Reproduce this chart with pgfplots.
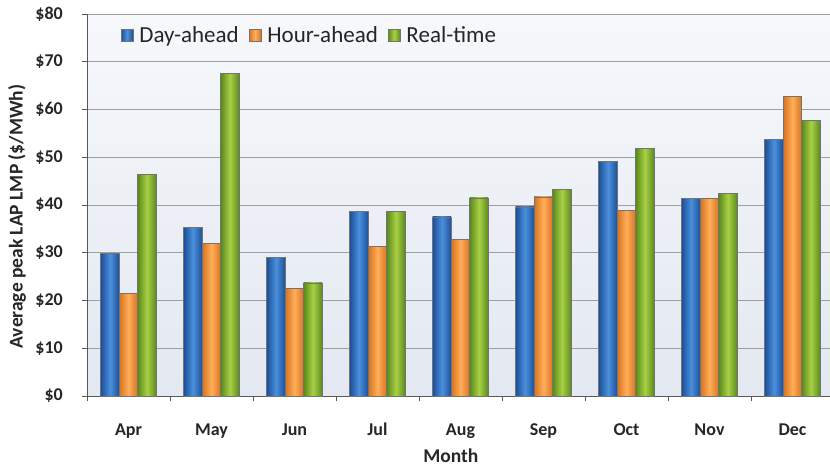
\documentclass[border=0pt]{standalone}
\usepackage{pgfplots}
\pgfplotsset{compat=1.18}
\usepackage{fontspec}
\setmainfont{Carlito}
\usetikzlibrary{calc}
\definecolor{bluemid}{HTML}{4A90DC}
\definecolor{blueedge}{HTML}{1D4F9A}
\definecolor{orgmid}{HTML}{FFAE5A}
\definecolor{orgedge}{HTML}{D9731F}
\definecolor{grnmid}{HTML}{A8D044}
\definecolor{grnedge}{HTML}{5B8A1C}
\definecolor{bgtop}{HTML}{F6F8FB}
\definecolor{bgbot}{HTML}{E3E8F1}
\pgfplotsset{
  bluebar/.style={left color=blueedge, right color=blueedge, middle color=bluemid, draw=black!55, line width=0.6bp},
  orgbar/.style={left color=orgedge, right color=orgedge, middle color=orgmid, draw=black!55, line width=0.6bp},
  grnbar/.style={left color=grnedge, right color=grnedge, middle color=grnmid, draw=black!55, line width=0.6bp},
}
\pgfplotstableread{
x DA HA RT
0 29.9 21.5 46.4
1 35.3 32.0 67.6
2 29.0 22.6 23.7
3 38.7 31.3 38.7
4 37.5 32.8 41.5
5 39.6 41.7 43.3
6 49.2 38.8 51.9
7 41.3 41.4 42.4
8 53.8 62.7 57.8
}\data
\begin{document}
\begin{tikzpicture}
\begin{axis}[
  name=ax,
  scale only axis, width=747bp, height=382bp,
  xmin=-0.5, xmax=8.5, ymin=0, ymax=80,
  xtick={0,...,8},
  xticklabels={Apr,May,Jun,Jul,Aug,Sep,Oct,Nov,Dec},
  major x tick style={draw=none},
  minor xtick={-0.5,0.5,...,8.5},
  minor x tick style={draw=gray!70!black, line width=0.8bp},
  ytick={0,10,...,80},
  yticklabel={\$\pgfmathprintnumber{\tick}},
  /pgf/number format/assume math mode=true,
  ymajorgrids, grid style={draw=gray!75, line width=0.9bp},
  tick align=outside, major tick length=5bp, minor tick length=5bp,
  y tick style={draw=gray!70!black, line width=0.8bp},
  axis x line*=bottom, axis y line*=left,
  axis line style={draw=gray!70!black, line width=0.8bp},
  axis background/.style={top color=bgtop, bottom color=bgbot},
  tick label style={font=\fontsize{18bp}{20bp}\selectfont\bfseries, text=black!85},
  yticklabel style={inner sep=0pt, xshift=-19bp},
  xticklabel style={inner sep=0pt, anchor=base, yshift=-34bp},
  xlabel={Month},
  ylabel={Average peak LAP LMP (\$/MWh)},
  label style={font=\fontsize{19.5bp}{22bp}\selectfont\bfseries, text=black!85, inner sep=0pt},
  xlabel style={at={(axis description cs:0.487,-0.157)}, anchor=center},
  ylabel style={at={(axis description cs:-0.0937,0.47)}, anchor=center},
  legend style={at={(axis description cs:0.041,0.945)}, anchor=west,
    draw=none, fill=none, font=\fontsize{23bp}{26bp}\selectfont, text=black!85,
    legend columns=3,
    /tikz/every odd column/.append style={column sep=4bp},
    /tikz/every even column/.append style={column sep=8bp}},
  legend image code/.code={\draw[#1] (0bp,-6bp) rectangle (12bp,6bp);},
]
\addlegendimage{bluebar}
\addlegendentry{Day-ahead}
\addlegendimage{orgbar}
\addlegendentry{Hour-ahead}
\addlegendimage{grnbar}
\addlegendentry{Real-time}
\pgfplotsinvokeforeach{0,...,8}{
  \addplot[ybar, bar width=18.5bp, bar shift=-18.5bp, bluebar, forget plot,
    x filter/.expression={abs(x-#1)<0.1 ? x : nan}]
    table[x=x, y=DA]{\data};
  \addplot[ybar, bar width=18.5bp, bar shift=0bp, orgbar, forget plot,
    x filter/.expression={abs(x-#1)<0.1 ? x : nan}]
    table[x=x, y=HA]{\data};
  \addplot[ybar, bar width=18.5bp, bar shift=18.5bp, grnbar, forget plot,
    x filter/.expression={abs(x-#1)<0.1 ? x : nan}]
    table[x=x, y=RT]{\data};
}
\end{axis}
\pgfresetboundingbox
\path[use as bounding box] ($(ax.south west)+(-87bp,-71bp)$) rectangle ($(ax.south west)+(743bp,396bp)$);
\end{tikzpicture}
\end{document}
